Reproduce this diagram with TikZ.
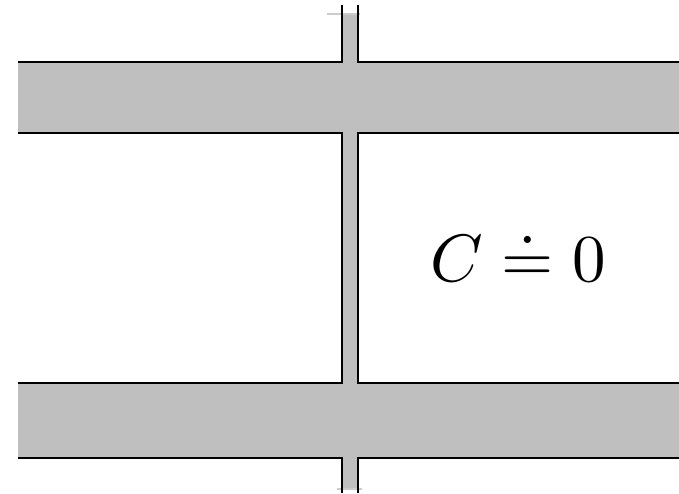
\documentclass[tikz,border=0pt]{standalone}
\begin{document}
\begin{tikzpicture}[x=1pt,y=-1pt,
  edge/.style={line width=1.6pt,black},
  tick/.style={line width=1.2pt,black!20}]
\useasboundingbox (0,0) rectangle (679,494);
\fill[black!25] (18,62) rectangle (679,133);
\fill[black!25] (18,383) rectangle (679,458);
\fill[black!25] (342,14) rectangle (358,490);
\draw[tick] (327,14) -- (360,14);
\draw[tick] (337,489) -- (362,489);
\draw[edge] (18,62) -- (342,62) -- (342,5);
\draw[edge] (358,5) -- (358,62) -- (679,62);
\draw[edge] (18,133) -- (342,133) -- (342,383) -- (18,383);
\draw[edge] (679,133) -- (358,133) -- (358,383) -- (679,383);
\draw[edge] (18,458) -- (342,458) -- (342,493);
\draw[edge] (358,493) -- (358,458) -- (679,458);
\node[scale=6.7] (eq) at (518,256) {$C \doteq 0$};
\end{tikzpicture}
\end{document}
